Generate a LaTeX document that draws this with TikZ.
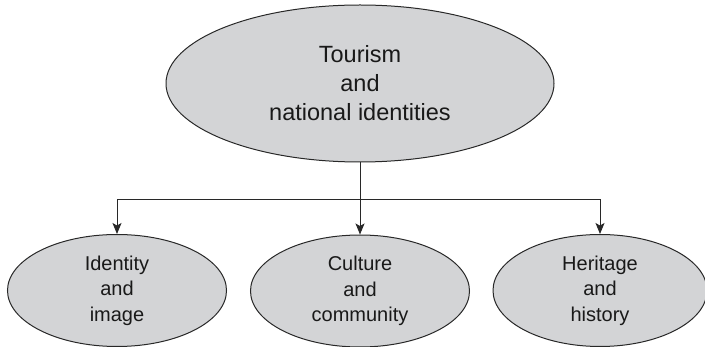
\documentclass[tikz,border=0pt]{standalone}
\usepackage{fontspec}
\setmainfont{Liberation Sans}
\usetikzlibrary{shapes.geometric,arrows.meta}
\definecolor{bubble}{RGB}{211,212,214}
\definecolor{ink}{RGB}{25,25,25}
\definecolor{wire}{RGB}{40,40,40}
\begin{document}
\begin{tikzpicture}[x=1pt,y=-1pt,
  bubblebox/.style={ellipse,draw=wire,line width=1pt,fill=bubble,inner sep=0pt,
    align=center,text=ink},
  mainbox/.style={bubblebox,minimum width=388pt,minimum height=157pt,
    font=\fontsize{23.5}{29}\selectfont},
  subbox/.style={bubblebox,minimum width=219pt,minimum height=112pt,
    font=\fontsize{20}{25.5}\selectfont},
  link/.style={draw=wire,line width=1pt},
  arrowlink/.style={link,-{Stealth[length=11pt,width=9pt,inset=2.5pt]}}]
\useasboundingbox (0,0) rectangle (705,347);
\node[mainbox] (top) at (360,83.5) {Tourism\\and\\national identities};
\node[subbox] (left) at (117,290.5) {Identity\\and\\image};
\node[subbox] (mid) at (360,291) {Culture\\and\\community};
\node[subbox,minimum width=214pt] (right) at (600,290.5) {Heritage\\and\\history};
\coordinate (bus) at (360,199.5);
\draw[arrowlink] (top.south) -- (mid.north);
\draw[arrowlink] (bus) -| (left.north);
\draw[arrowlink] (bus) -| (right.north);
\end{tikzpicture}
\end{document}
